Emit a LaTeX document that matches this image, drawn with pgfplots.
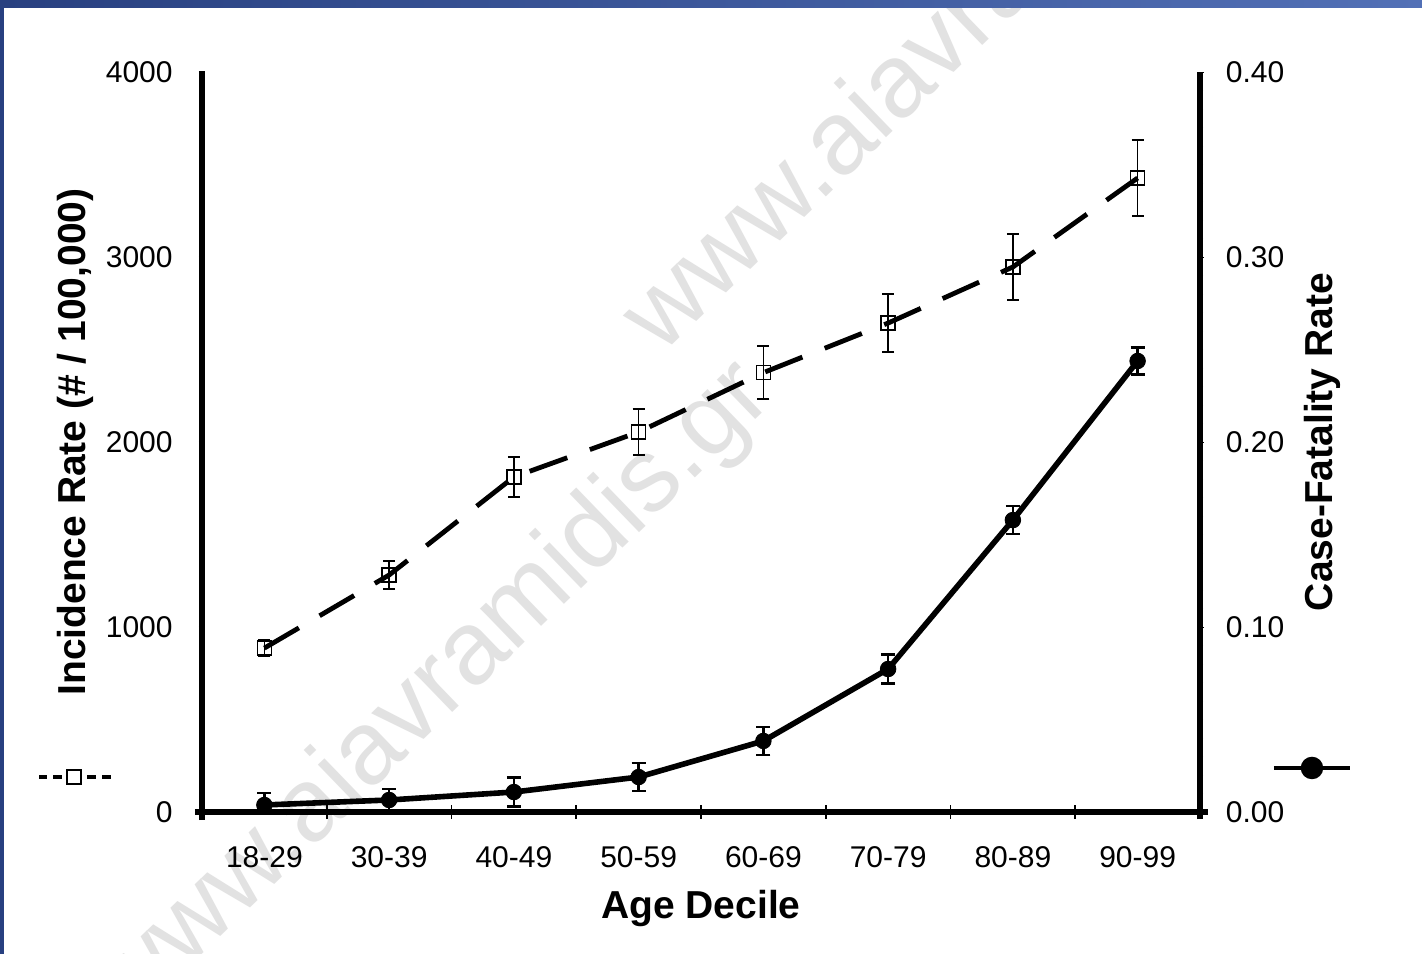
\documentclass[border=0pt]{standalone}
\usepackage{fontspec}
\setmainfont{Liberation Sans}
\usepackage{pgfplots}
\pgfplotsset{compat=1.18}
\definecolor{wm}{RGB}{226,226,226}
\definecolor{frameL}{RGB}{40,64,128}
\definecolor{frameR}{RGB}{82,112,182}
\begin{document}
\begin{tikzpicture}
\useasboundingbox (0,0) rectangle (711bp,-477bp);
\fill[white] (0,0) rectangle (711bp,-477bp);
\begin{scope}
\clip (0,0) rectangle (711bp,-477bp);
\node[text=wm, font=\fontsize{52bp}{60bp}\selectfont, anchor=base west, inner sep=0pt, rotate=44] at (65.5bp,-511.5bp) {www.aiavramidis.gr};
\node[text=wm, font=\fontsize{52bp}{60bp}\selectfont, anchor=base west, inner sep=0pt, rotate=44] at (330.5bp,-178bp) {www.aiavramidis.gr};
\end{scope}
\shade[left color=frameL, right color=frameR] (0,0) rectangle (711bp,-3.5bp);
\fill[frameL] (0,0) rectangle (2bp,-477bp);

\begin{axis}[
  at={(101bp,-406bp)}, anchor=south west,
  scale only axis, width=499bp, height=370bp,
  xmin=-0.5, xmax=7.5, ymin=0, ymax=4000,
  axis x line=bottom, axis y line=left,
  axis line style={line width=2.7bp, -},
  x axis line style={shorten <=-3.5bp, shorten >=-4bp},
  y axis line style={shorten <=-4bp},
  tick align=center,
  xtick={0,...,7},
  xticklabels={18-29,30-39,40-49,50-59,60-69,70-79,80-89,90-99},
  major x tick style={draw=none},
  minor xtick={0.5,1.5,2.5,3.5,4.5,5.5,6.5},
  minor x tick style={line width=0.9bp},
  ytick={0,1000,2000,3000,4000},
  yticklabels={0,1000,2000,3000,4000},
  major tick length=3bp, minor tick length=7bp,
  every tick/.style={black, line width=0.8bp},
  /pgf/number format/assume math mode=true,
  ticklabel style={font=\fontsize{15bp}{18bp}\selectfont},
  xticklabel style={anchor=north, inner sep=0pt, yshift=-15.5bp},
  yticklabel style={anchor=east, inner sep=0pt, xshift=-13bp},
  xlabel={Age Decile},
  ylabel={Incidence Rate (\# / 100,000)},
  every axis x label/.style={at={(axis description cs:0.5,-0.131)}, anchor=center, font=\fontsize{19.5bp}{23bp}\selectfont\bfseries},
  every axis y label/.style={at={(axis description cs:-0.1273,0.5)}, rotate=90, anchor=center, font=\fontsize{19.5bp}{23bp}\selectfont\bfseries},
  legend style={draw=none, fill=none, at={(axis description cs:-0.126,0.0473)}, anchor=center, inner sep=0pt, outer sep=0pt, nodes={inner sep=0pt, outer sep=0pt}, column sep=0pt},
]
\addplot[black, line width=2.4bp, dash pattern=on 20bp off 12bp,
  mark=square, mark size=3.5bp, mark options={solid, line width=0.8bp, fill=none},
  legend image code/.code={
    \draw[solid, line width=2.2bp] (-17.5bp,0) -- (-13.5bp,0);
    \draw[solid, line width=2.2bp] (-10.5bp,0) -- (-6bp,0);
    \draw[solid, line width=2.2bp] (6.5bp,0) -- (11bp,0);
    \draw[solid, line width=2.2bp] (14bp,0) -- (18.5bp,0);
    \draw[solid, line width=0.8bp] (-3.5bp,-3.5bp) rectangle (3.5bp,3.5bp);
  },
  error bars/.cd, y dir=both, y explicit,
  error bar style={solid, line width=0.8bp},
  error mark options={rotate=90, mark size=3bp, line width=0.8bp, solid}]
coordinates {
(0,886) +- (0,44)
(1,1281) +- (0,76)
(2,1811) +- (0,108)
(3,2054) +- (0,124)
(4,2375) +- (0,143)
(5,2643) +- (0,157)
(6,2946) +- (0,178)
(7,3427) +- (0,205)
};
\addlegendentry{}
\end{axis}

\begin{axis}[
  at={(101bp,-406bp)}, anchor=south west,
  scale only axis, width=499bp, height=370bp,
  xmin=-0.5, xmax=7.5, ymin=0, ymax=0.4,
  axis x line=none, axis y line=right,
  axis line style={line width=2.7bp, -},
  y axis line style={shorten <=-3.5bp},
  xtick=\empty,
  ytick={0,0.1,0.2,0.3,0.4},
  yticklabels={0.00,0.10,0.20,0.30,0.40},
  minor y tick num=9,
  tick align=center, major tick length=3.5bp, minor tick length=3bp,
  every tick/.style={black, line width=0.5bp},
  /pgf/number format/assume math mode=true,
  ticklabel style={font=\fontsize{15bp}{18bp}\selectfont},
  yticklabel style={anchor=west, inner sep=0pt, xshift=11bp},
  ylabel={Case-Fatality Rate},
  every axis y label/.style={at={(axis description cs:1.1222,0.5)}, rotate=90, anchor=center, font=\fontsize{19.5bp}{23bp}\selectfont\bfseries},
  legend style={draw=none, fill=none, at={(axis description cs:1.1132,0.0595)}, anchor=center, inner sep=0pt, outer sep=0pt, nodes={inner sep=0pt, outer sep=0pt}, column sep=0pt},
]
\addplot[black, line width=2.8bp, mark=*, mark size=3.9bp, mark options={line width=0.4bp},
  legend image code/.code={
    \draw[solid, line width=2bp] (-19bp,0) -- (19bp,0);
    \fill (0,0) circle (4.2bp);
  },
  error bars/.cd, y dir=both, y explicit,
  error bar style={line width=1.2bp},
  error mark options={rotate=90, mark size=3.5bp, line width=1.2bp}]
coordinates {
(0,0.0038) +- (0,0.0066)
(1,0.0065) +- (0,0.0060)
(2,0.0108) +- (0,0.0078)
(3,0.0189) +- (0,0.0076)
(4,0.0384) +- (0,0.0076)
(5,0.0773) +- (0,0.0078)
(6,0.1578) +- (0,0.0076)
(7,0.2438) +- (0,0.0073)
};
\addlegendentry{}
\end{axis}
\end{tikzpicture}
\end{document}
